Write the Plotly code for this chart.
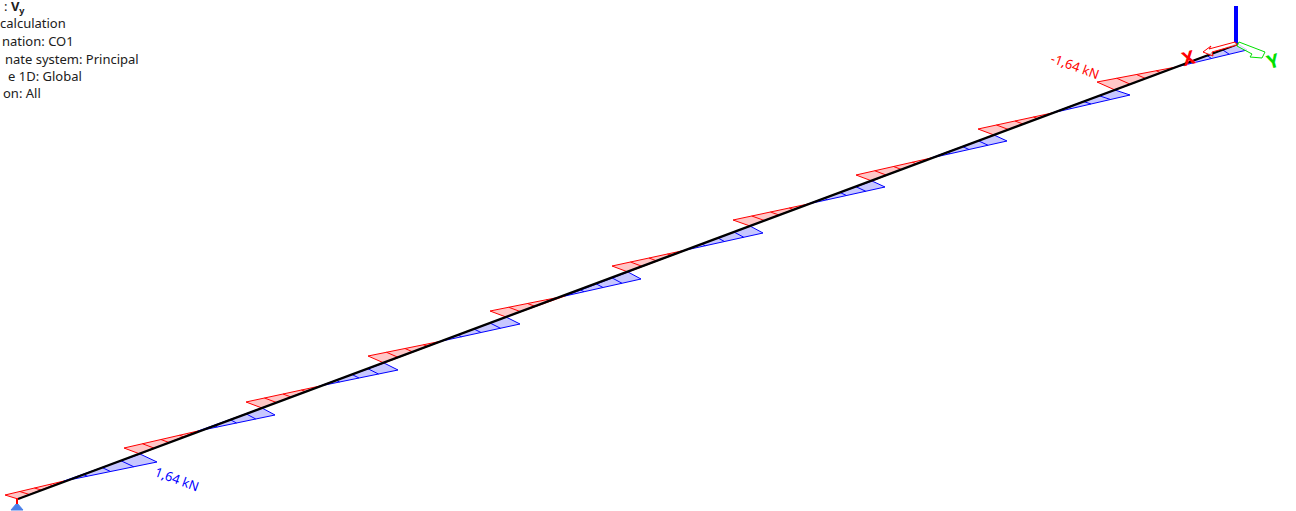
import plotly.graph_objects as go

# Beam end points (screen-like coordinates of the drawing)
beam_x = [18, 1238]
beam_y = [499, 44]

# Section joints on the beam, where the shear jumps
joint_x = [18, 140, 262, 384, 506, 628, 750, 872, 994, 1115, 1238]
joint_y = [499, 454, 408, 363, 317, 272, 226, 181, 135, 90, 44]
# Zero crossing of the shear inside each span
zero_x = [64, 198, 320, 442, 565, 686, 808, 931, 1052, 1176]
zero_y = [481, 431, 386, 341, 296, 250, 204, 158, 113, 67]
# Outer corner of the negative (red) diagram in each span
red_x = [5, 124, 246, 368, 490, 612, 733, 856, 978, 1097]
red_y = [495, 448, 402, 356, 311, 266, 220, 175, 129, 82]
# Outer corner of the positive (blue) diagram in each span
blue_x = [157, 275, 398, 520, 641, 763, 885, 1007, 1130, 1247]
blue_y = [462, 415, 370, 324, 279, 233, 187, 141, 95, 50]

info_lines = [": <b>V<sub>y</sub></b>", "calculation", "nation: CO1",
              "nate system: Principal", "e 1D: Global", "on: All"]
info_end_x = [27, 68, 76, 141, 84, 43]
info_y = [7, 23, 41, 59, 76, 93]
info_size = [13, 13, 13, 13, 13, 13]

value_labels = ["-1,64 kN", "1,64 kN"]
RED, BLUE, GREEN = "#ff0000", "#0000ff", "#00e000"

fig = go.Figure()


def poly(xs, ys, line, fill, width=1):
    fig.add_trace(go.Scatter(x=xs, y=ys, mode="lines", fill="toself", fillcolor=fill,
                             line=dict(color=line, width=width), hoverinfo="skip", showlegend=False))


def segs(pairs, color, width=1):
    xs, ys = [], []
    for (a, b) in pairs:
        xs += [a[0], b[0], None]
        ys += [a[1], b[1], None]
    fig.add_trace(go.Scatter(x=xs, y=ys, mode="lines", line=dict(color=color, width=width),
                             hoverinfo="skip", showlegend=False))


def lerp(a, b, t):
    return (a[0] + (b[0] - a[0]) * t, a[1] + (b[1] - a[1]) * t)


def panel(corner, base, zero, color, fill):
    poly([corner[0], base[0], zero[0], corner[0]], [corner[1], base[1], zero[1], corner[1]], color, fill)
    segs([(lerp(base, zero, t), lerp(corner, zero, t)) for t in (0.25, 0.5, 0.75)], color)


for i in range(len(zero_x)):
    z = (zero_x[i], zero_y[i])
    panel((red_x[i], red_y[i]), (joint_x[i], joint_y[i]), z, RED, "rgba(255,0,0,0.22)")
    panel((blue_x[i], blue_y[i]), (joint_x[i + 1], joint_y[i + 1]), z, BLUE, "rgba(0,0,255,0.22)")

fig.add_trace(go.Scatter(x=beam_x, y=beam_y, mode="lines", line=dict(color="black", width=2.4),
                         hoverinfo="skip", showlegend=False))

# Support at the first node
poly([17, 11, 23, 17], [503, 510, 510, 503], "#4a7fe8", "#4a7fe8")
segs([((17, 498), (17, 504))], RED, 2)

# Coordinate axes glyph
fig.add_trace(go.Scatter(x=[1236, 1236], y=[6, 43], mode="lines", line=dict(color=BLUE, width=4),
                         hoverinfo="skip", showlegend=False))
poly([1235, 1209, 1211, 1203, 1213, 1212, 1237, 1235], [42, 49, 46, 52, 56, 52, 45, 42], RED, "rgba(255,255,255,0.8)")
poly([1239, 1262, 1265, 1262, 1250, 1252, 1237, 1239], [42, 51, 52, 58, 57, 54, 46, 42], GREEN, "rgba(255,255,255,0.8)")

font = "Noto Sans"
ann = [dict(x=x, y=y, text=t, xanchor="right", yanchor="middle", showarrow=False,
            font=dict(family=font, size=s, color="#202020"))
       for t, x, y, s in zip(info_lines, info_end_x, info_y, info_size)]
ann += [
    dict(x=1075, y=66, text=value_labels[0], textangle=20, showarrow=False, font=dict(family=font, size=13, color=RED)),
    dict(x=177, y=479, text=value_labels[1], textangle=20, showarrow=False, font=dict(family=font, size=13, color=BLUE)),
    dict(x=1188, y=58, text="<b>X</b>", textangle=-15, showarrow=False, font=dict(family=font, size=19, color=RED)),
    dict(x=1273, y=61, text="<b>Y</b>", textangle=-15, showarrow=False, font=dict(family=font, size=19, color=GREEN)),
]

fig.update_layout(
    width=1296, height=511, margin=dict(l=0, r=0, t=0, b=0),
    paper_bgcolor="white", plot_bgcolor="white", showlegend=False, annotations=ann,
    xaxis=dict(range=[0, 1296], visible=False, fixedrange=True),
    yaxis=dict(range=[511, 0], visible=False, fixedrange=True),
)
fig.write_html("out.html", config=dict(displayModeBar=False),
               post_script="document.body.style.margin='0';document.documentElement.style.overflow='hidden';")
